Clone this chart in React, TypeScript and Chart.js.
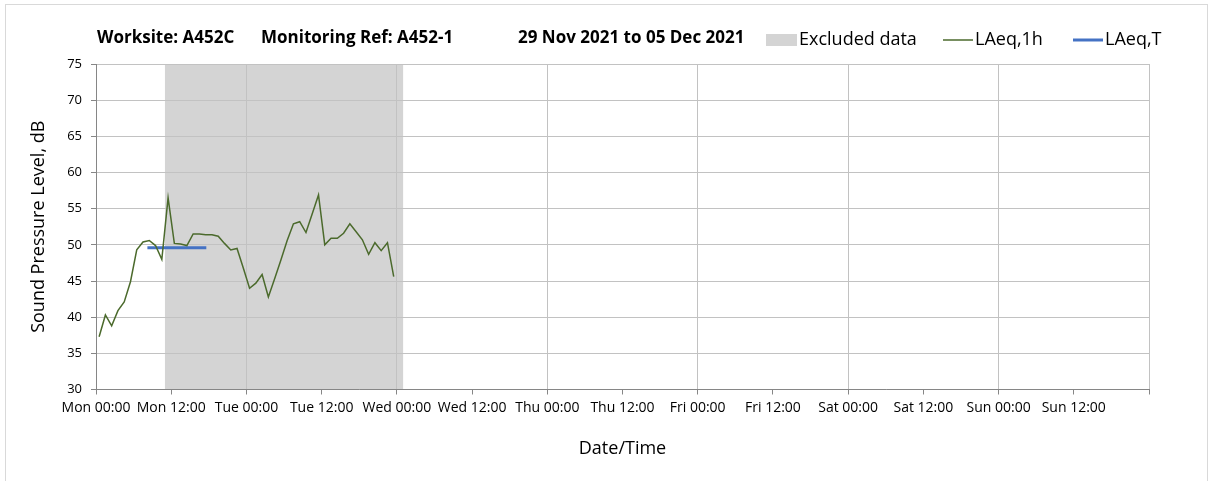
import React, { useEffect, useRef } from 'react';
import { Chart, registerables } from 'chart.js';

Chart.register(...registerables);

// Hours since Mon 29 Nov 2021 00:00 (mid-hour of each hourly period)
const laeq1hHours = [
  0.5, 1.5, 2.5, 3.5, 4.5, 5.5, 6.5, 7.5, 8.5, 9.5, 10.5, 11.5,
  12.5, 13.5, 14.5, 15.5, 16.5, 17.5, 18.5, 19.5, 20.5, 21.5, 22.5, 23.5,
  24.5, 25.5, 26.5, 27.5, 28.5, 29.5, 30.5, 31.5, 32.5, 33.5, 34.5, 35.5,
  36.5, 37.5, 38.5, 39.5, 40.5, 41.5, 42.5, 43.5, 44.5, 45.5, 46.5, 47.5,
];
const laeq1hValues = [
  37.3, 40.3, 38.8, 40.9, 42.1, 44.9, 49.3, 50.4, 50.6, 49.9, 48.0, 56.5,
  50.2, 50.1, 49.9, 51.5, 51.5, 51.4, 51.4, 51.2, 50.2, 49.3, 49.5, 46.8,
  44.0, 44.7, 45.9, 42.8, 45.3, 47.9, 50.6, 52.9, 53.2, 51.7, 54.3, 56.9,
  50.0, 50.9, 50.9, 51.6, 52.9, 51.8, 50.7, 48.7, 50.3, 49.2, 50.3, 45.6,
];
const laeqTHours = [8.2, 17.6];
const laeqTValues = [49.6, 49.6];
const excludedHours = [11, 49];

const dayNames = ['Mon', 'Tue', 'Wed', 'Thu', 'Fri', 'Sat', 'Sun'];
const xTickHours = [0, 12, 24, 36, 48, 60, 72, 84, 96, 108, 120, 132, 144, 156, 168];
const yTickValues = [30, 35, 40, 45, 50, 55, 60, 65, 70, 75];

const titleParts = ['Worksite: A452C', 'Monitoring Ref: A452-1', '29 Nov 2021 to 05 Dec 2021'];
const legendLabels = ['Excluded data', 'LAeq,1h', 'LAeq,T'];

const FONT = '"Open Sans", "Noto Sans", sans-serif';
const GREEN = '#4b6a2c';
const BLUE = '#4472c4';
const GREY = '#d4d4d4';
const AXIS = '#868686';
const GRID = '#c2c2c2';

const excludedPlugin = {
  id: 'excluded',
  beforeDraw(chart: any) {
    const { ctx, chartArea, scales } = chart;
    const x0 = scales.x.getPixelForValue(excludedHours[0]);
    const x1 = scales.x.getPixelForValue(excludedHours[1]);
    ctx.save();
    ctx.fillStyle = GREY;
    ctx.fillRect(x0, chartArea.top, x1 - x0, chartArea.bottom - chartArea.top);
    ctx.restore();
  },
};

const headerPlugin = {
  id: 'header',
  afterDraw(chart: any) {
    const { ctx } = chart;
    ctx.save();
    ctx.textBaseline = 'middle';
    ctx.textAlign = 'left';
    ctx.fillStyle = '#000';
    ctx.font = `bold 17px ${FONT}`;
    const titleX = [97, 261, 518];
    titleParts.forEach((t, i) => ctx.fillText(t, titleX[i], 38));

    const ly = 40;
    ctx.font = `18px ${FONT}`;
    // Excluded data
    ctx.fillStyle = GREY;
    ctx.fillRect(766, ly - 6, 31, 12);
    ctx.fillStyle = '#000';
    ctx.fillText(legendLabels[0], 799, ly);
    // LAeq,1h
    ctx.strokeStyle = GREEN;
    ctx.lineWidth = 1.5;
    ctx.beginPath();
    ctx.moveTo(943, ly);
    ctx.lineTo(973, ly);
    ctx.stroke();
    ctx.fillText(legendLabels[1], 975, ly);
    // LAeq,T
    ctx.strokeStyle = BLUE;
    ctx.lineWidth = 3;
    ctx.beginPath();
    ctx.moveTo(1073, ly);
    ctx.lineTo(1103, ly);
    ctx.stroke();
    ctx.fillText(legendLabels[2], 1105, ly);
    ctx.restore();
  },
};

export default function App() {
  const canvasRef = useRef<HTMLCanvasElement | null>(null);

  useEffect(() => {
    const canvas = canvasRef.current;
    if (!canvas) return;
    const chart = new Chart(canvas, {
      type: 'line',
      data: {
        datasets: [
          {
            label: legendLabels[1],
            data: laeq1hHours.map((h, i) => ({ x: h, y: laeq1hValues[i] })),
            borderColor: GREEN,
            borderWidth: 1.5,
            pointRadius: 0,
            tension: 0,
            fill: false,
          },
          {
            label: legendLabels[2],
            data: laeqTHours.map((h, i) => ({ x: h, y: laeqTValues[i] })),
            borderColor: BLUE,
            borderWidth: 3,
            borderCapStyle: 'butt',
            pointRadius: 0,
            fill: false,
          },
        ],
      },
      options: {
        responsive: false,
        animation: false,
        events: [],
        layout: { padding: { top: 64, right: 59, left: 0, bottom: 0 } },
        plugins: {
          legend: { display: false },
          title: { display: false },
          tooltip: { enabled: false },
        },
        scales: {
          x: {
            type: 'linear',
            min: 0,
            max: 168,
            afterBuildTicks: (scale: any) => {
              scale.ticks = xTickHours.map((v) => ({ value: v }));
            },
            afterFit: (scale: any) => {
              scale.height = 91.5;
            },
            ticks: {
              autoSkip: false,
              maxRotation: 0,
              minRotation: 0,
              padding: 5,
              color: '#000',
              font: { family: FONT, size: 14 },
              callback: (v: any) => {
                const n = Number(v);
                if (n >= 168) return '';
                const d = dayNames[Math.floor(n / 24)];
                return `${d} ${n % 24 === 0 ? '00:00' : '12:00'}`;
              },
            },
            grid: {
              color: (c: any) => (c.tick && c.tick.value % 24 === 0 ? GRID : 'rgba(0,0,0,0)'),
              tickColor: AXIS,
              tickLength: 5,
              lineWidth: 1,
            },
            border: { color: AXIS, width: 1 },
            title: {
              display: true,
              text: 'Date/Time',
              color: '#000',
              font: { family: FONT, size: 18 },
              padding: { top: 0, bottom: 21 },
            },
          },
          y: {
            min: 30,
            max: 75,
            afterBuildTicks: (scale: any) => {
              scale.ticks = yTickValues.map((v) => ({ value: v }));
            },
            afterFit: (scale: any) => {
              scale.width = 96;
            },
            ticks: {
              padding: 9,
              color: '#000',
              font: { family: FONT, size: 13 },
            },
            grid: {
              color: GRID,
              tickColor: AXIS,
              tickLength: 5,
              lineWidth: 1,
            },
            border: { color: AXIS, width: 1 },
            title: {
              display: true,
              text: 'Sound Pressure Level, dB',
              color: '#000',
              font: { family: FONT, size: 18 },
              padding: { top: 28, bottom: 0 },
            },
          },
        },
      },
      plugins: [excludedPlugin, headerPlugin],
    } as any);
    return () => chart.destroy();
  }, []);

  return (
    <div style={{ position: 'absolute', left: 0, top: 0, width: 1208, height: 481, background: '#fff' }}>
      <canvas
        ref={canvasRef}
        width={1208}
        height={481}
        style={{ position: 'absolute', left: 0, top: 0, width: 1208, height: 481 }}
      />
      <div
        style={{
          position: 'absolute',
          left: 5,
          top: 4,
          width: 1203,
          height: 478,
          border: '1px solid #d9d9d9',
          boxSizing: 'border-box',
          pointerEvents: 'none',
        }}
      />
    </div>
  );
}
